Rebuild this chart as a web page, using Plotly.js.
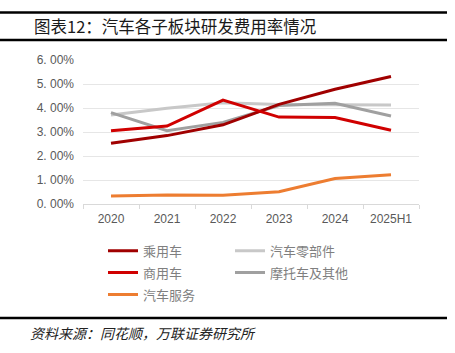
<!DOCTYPE html>
<html><head><meta charset="utf-8">
<script src="https://cdn.plot.ly/plotly-3.0.1.min.js"></script>
<style>html,body{margin:0;padding:0;background:#fff}#chart{width:455px;height:353px}</style>
</head><body><div id="chart"></div>
<script>
const categories = ['2020','2021','2022','2023','2024','2025H1'];
const seriesNames = ['乘用车','汽车零部件','商用车','摩托车及其他','汽车服务'];
const passengerCar = [2.53, 2.85, 3.30, 4.15, 4.78, 5.31];
const autoParts = [3.71, 3.99, 4.22, 4.15, 4.14, 4.12];
const commercialCar = [3.05, 3.25, 4.33, 3.62, 3.60, 3.07];
const motorcycleOther = [3.81, 3.05, 3.40, 4.10, 4.20, 3.67];
const autoService = [0.33, 0.38, 0.36, 0.51, 1.06, 1.22];
const yTickVals = [0,1,2,3,4,5,6];
const yTickLabels = ['0. 00%','1. 00%','2. 00%','3. 00%','4. 00%','5. 00%','6. 00%'];
const titleText = '图表12：汽车各子板块研发费用率情况';
const sourceText = '资料来源：同花顺，万联证券研究所';

const values = [passengerCar, autoParts, commercialCar, motorcycleOther, autoService];
const colors = ['#A00000','#C8C8C8','#D00000','#A0A0A0','#ED7D31'];
const legendIds = ['legend','legend2','legend','legend2','legend'];
const ranks = [1,1,2,2,3];
const traces = values.map((v,i)=>({
  type:'scatter', mode:'lines', x:categories, y:v, name:seriesNames[i],
  line:{color:colors[i], width:3}, legend:legendIds[i], legendgroup:'g'+i, legendrank:ranks[i]
}));
const order = [1,3,4,0,2];
const data = order.map(i=>traces[i]);

const legendFont = {family:'Noto Sans CJK SC', size:13, color:'#7F7F7F'};
const layout = {
  width:455, height:353,
  margin:{l:83, r:36, t:60, b:149},
  paper_bgcolor:'#fff', plot_bgcolor:'#fff',
  showlegend:true,
  xaxis:{type:'category', range:[-0.5,5.5], showgrid:false, showline:true, linecolor:'#D9D9D9', linewidth:1,
    ticks:'outside', ticklen:4, tickcolor:'#D9D9D9', tickson:'boundaries', ticklabelstandoff:4,
    tickfont:{family:'Liberation Sans, Arial', size:12, color:'#595959'}, fixedrange:true},
  yaxis:{range:[0,6], tickvals:yTickVals, ticktext:yTickLabels, showgrid:true, gridcolor:'#E6E6E6', gridwidth:1,
    zeroline:false, showline:false, ticks:'', ticklabelstandoff:8,
    tickfont:{family:'Liberation Sans, Arial', size:12, color:'#595959'}, fixedrange:true},
  legend:{x:(103-83)/336, xanchor:'left', y:-0.22, yanchor:'top', orientation:'v', traceorder:'grouped',
    tracegroupgap:2, font:legendFont, bgcolor:'rgba(0,0,0,0)', itemwidth:30},
  legend2:{x:(230-83)/336, xanchor:'left', y:-0.22, yanchor:'top', orientation:'v', traceorder:'grouped',
    tracegroupgap:2, font:legendFont, bgcolor:'rgba(0,0,0,0)', itemwidth:30},
  shapes:[
    {type:'line', xref:'paper', yref:'paper', x0:-83/336, x1:(447-83)/336, y0:(204-12.5)/144, y1:(204-12.5)/144, line:{color:'#000', width:2.5}},
    {type:'line', xref:'paper', yref:'paper', x0:-83/336, x1:(447-83)/336, y0:(204-40)/144, y1:(204-40)/144, line:{color:'#000', width:2.5}},
    {type:'line', xref:'paper', yref:'paper', x0:-83/336, x1:(447-83)/336, y0:(204-318)/144, y1:(204-318)/144, line:{color:'#000', width:2.5}}
  ],
  annotations:[
    {text:titleText, xref:'paper', yref:'paper', x:(32-83)/336, y:(204-26)/144, xanchor:'left', yanchor:'middle', showarrow:false,
     font:{family:'Noto Sans CJK SC', size:16.5, color:'#1a1a1a'}},
    {text:'<i>'+sourceText+'</i>', xref:'paper', yref:'paper', x:(28-83)/336, y:(204-333)/144, xanchor:'left', yanchor:'middle', showarrow:false,
     font:{family:'Noto Sans CJK SC', size:14, color:'#222'}}
  ]
};
Plotly.newPlot('chart', data, layout, {displayModeBar:false, staticPlot:true});
</script></body></html>
